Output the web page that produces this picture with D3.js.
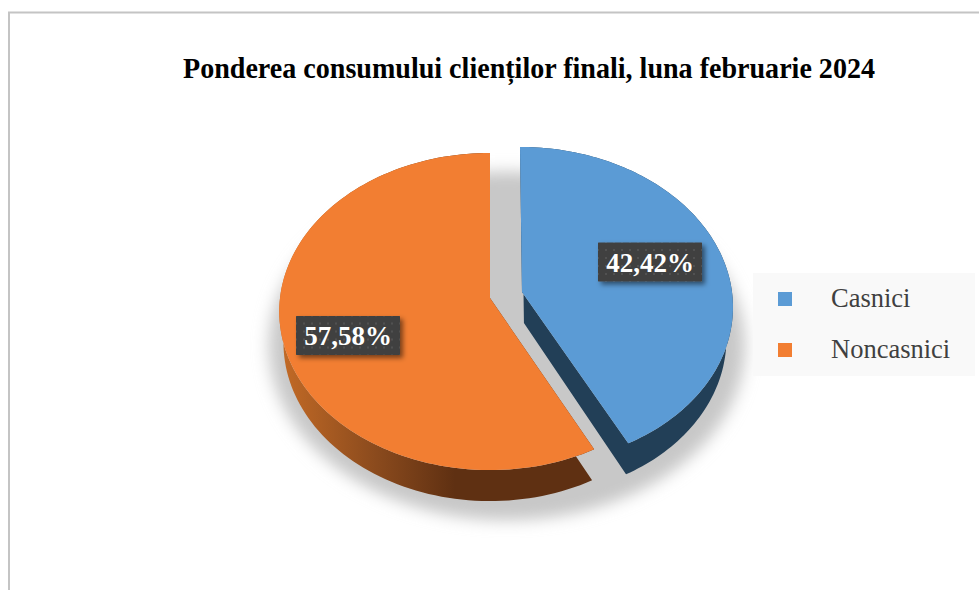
<!DOCTYPE html>
<html>
<head>
<meta charset="utf-8">
<script src="https://cdn.jsdelivr.net/npm/d3@7"></script>
<style>
html, body { margin: 0; padding: 0; background: #ffffff; }
svg { display: block; }
</style>
</head>
<body>
<svg id="pie-chart"></svg>
<script>
const categories = ["Casnici", "Noncasnici"]
const shares = [42.42, 57.58]
const colors = ["#5b9bd5", "#f27e32"]
const titleText = "Ponderea consumului clienților finali, luna februarie 2024"

const width = 979, height = 590

// perspective of the tilted disc
const rx = 210, ry = 157.4, tilt = 0.0852, depth = 31

const svg = d3.select("svg#pie-chart")
    .attr("viewBox", [0, 0, width, height])
    .attr("width", width)
    .attr("height", height)
    .style("background", "#ffffff")

const defs = svg.append("defs")

defs.append("filter").attr("id", "blur")
    .attr("x", "-20%").attr("y", "-20%").attr("width", "140%").attr("height", "140%")
    .append("feGaussianBlur").attr("stdDeviation", 7)

const boxShadow = defs.append("filter").attr("id", "box-shadow")
    .attr("x", "-20%").attr("y", "-30%").attr("width", "140%").attr("height", "170%")
boxShadow.append("feDropShadow")
    .attr("dx", 3).attr("dy", 3).attr("stdDeviation", 2.5)
    .attr("flood-color", "#000").attr("flood-opacity", 0.5)

const dots = defs.append("pattern").attr("id", "dots")
    .attr("patternUnits", "userSpaceOnUse")
    .attr("width", 8).attr("height", 8)
dots.append("rect").attr("width", 8).attr("height", 8).attr("fill", "#404040")
dots.append("circle").attr("cx", 4).attr("cy", 4).attr("r", 1).attr("fill", "#565656")

// gradient runs in the slice's own coordinates, apex at 0,0
const wallFill = defs.append("linearGradient").attr("id", "wall-orange")
    .attr("gradientUnits", "userSpaceOnUse")
    .attr("x1", -208).attr("x2", -35).attr("y1", 0).attr("y2", 0)
wallFill.append("stop").attr("offset", 0).attr("stop-color", "#c26a26")
wallFill.append("stop").attr("offset", 0.55).attr("stop-color", "#8a4a1d")
wallFill.append("stop").attr("offset", 1).attr("stop-color", "#5f3012")

const project = (angle, f = 1) => {
    const u = f * Math.sin(angle), v = -f * Math.cos(angle)
    const w = 1 - tilt * v
    return [rx * u / w, ry * v / w]
}

const pie = d3.pie().sort(null).value(d => d)
const slices = pie(shares)

// where each slice sits on the page, and how its underside lies
const layout = [
    {apex: [522, 292], shear: 0.0138, under: 1.5, narrow: 0.96, wall: "#223f57", label: [128, -30], textY: 10},
    {apex: [490, 298], shear: 0, under: 0, narrow: 0.98, wall: "url(#wall-orange)", label: [-142, 37.5], textY: 9.5}
]

const line = d3.line()

const rim = d => d3.range(0, 121).map(i => project(d.startAngle + (d.endAngle - d.startAngle) * i / 120))
const toUnder = (p, l) => [p[0] * l.narrow + l.under, p[1] + depth]

// soft shadow under the whole pie
svg.append("path")
    .attr("d", line(d3.range(0, 181).map(i => project(i / 180 * 2 * Math.PI))) + "Z")
    .attr("transform", "translate(507, 331) scale(1.13, 1.1)")
    .attr("fill", "#c8c8c8")
    .attr("filter", "url(#blur)")

const sliceGroups = svg.selectAll("g.slice")
    .data(slices)
    .enter()
    .append("g").attr("class", "slice")
    .attr("transform", (d, i) => {
        const l = layout[i]
        return `matrix(1, 0, ${l.shear}, 1, ${l.apex[0]}, ${l.apex[1]})`
    })

// walls
sliceGroups.append("path")
    .attr("d", (d, i) => {
        const outline = [[0, 0], ...rim(d), [0, 0]]
        return line(outline.concat(outline.slice().reverse().map(p => toUnder(p, layout[i])))) + "Z"
    })
    .attr("fill", (d, i) => layout[i].wall)

// top faces
sliceGroups.append("path")
    .attr("d", d => line([[0, 0], ...rim(d)]) + "Z")
    .attr("fill", (d, i) => colors[i])

// data labels
const labels = svg.selectAll("g.label")
    .data(slices)
    .enter()
    .append("g").attr("class", "label")
    .attr("transform", (d, i) => {
        const l = layout[i]
        return `translate(${l.apex[0] + l.label[0]}, ${l.apex[1] + l.label[1]})`
    })

labels.append("rect")
    .attr("x", -52).attr("y", -19.5)
    .attr("width", 104).attr("height", 39)
    .attr("fill", "url(#dots)")
    .attr("filter", "url(#box-shadow)")

labels.append("text")
    .attr("text-anchor", "middle")
    .attr("y", (d, i) => layout[i].textY)
    .attr("font-family", "Liberation Serif")
    .attr("font-weight", "bold")
    .attr("font-size", 27)
    .attr("fill", "#ffffff")
    .text(d => d.value.toFixed(2).replace(".", ",") + "%")

// legend
const legend = svg.append("g")

legend.append("rect")
    .attr("x", 753).attr("y", 273)
    .attr("width", 222).attr("height", 103)
    .attr("fill", "#f9f9f9")

const legendY = d3.scalePoint().domain(categories).range([299, 350])

const legendItems = legend.selectAll("g.legend")
    .data(categories)
    .enter()
    .append("g").attr("class", "legend")

legendItems.append("rect")
    .attr("x", 778)
    .attr("y", d => legendY(d) - 7)
    .attr("width", 14)
    .attr("height", 14)
    .attr("fill", (d, i) => colors[i])

legendItems.append("text")
    .attr("x", 831)
    .attr("y", d => legendY(d) + 8)
    .attr("font-family", "Liberation Serif")
    .attr("font-size", 26.5)
    .attr("fill", "#404040")
    .text(d => d)

// title
svg.append("text")
    .attr("x", 183)
    .attr("y", 78)
    .attr("textLength", 692)
    .attr("lengthAdjust", "spacingAndGlyphs")
    .attr("font-family", "Liberation Serif")
    .attr("font-weight", "bold")
    .attr("font-size", 30)
    .attr("fill", "#000000")
    .text(titleText)

// outer frame, top and left only
svg.append("path")
    .attr("d", line([[9, height], [9, 12.5], [width, 12.5]]))
    .attr("fill", "none")
    .attr("stroke", "#c4c4c4")
    .attr("stroke-width", 2)
</script>
</body>
</html>
